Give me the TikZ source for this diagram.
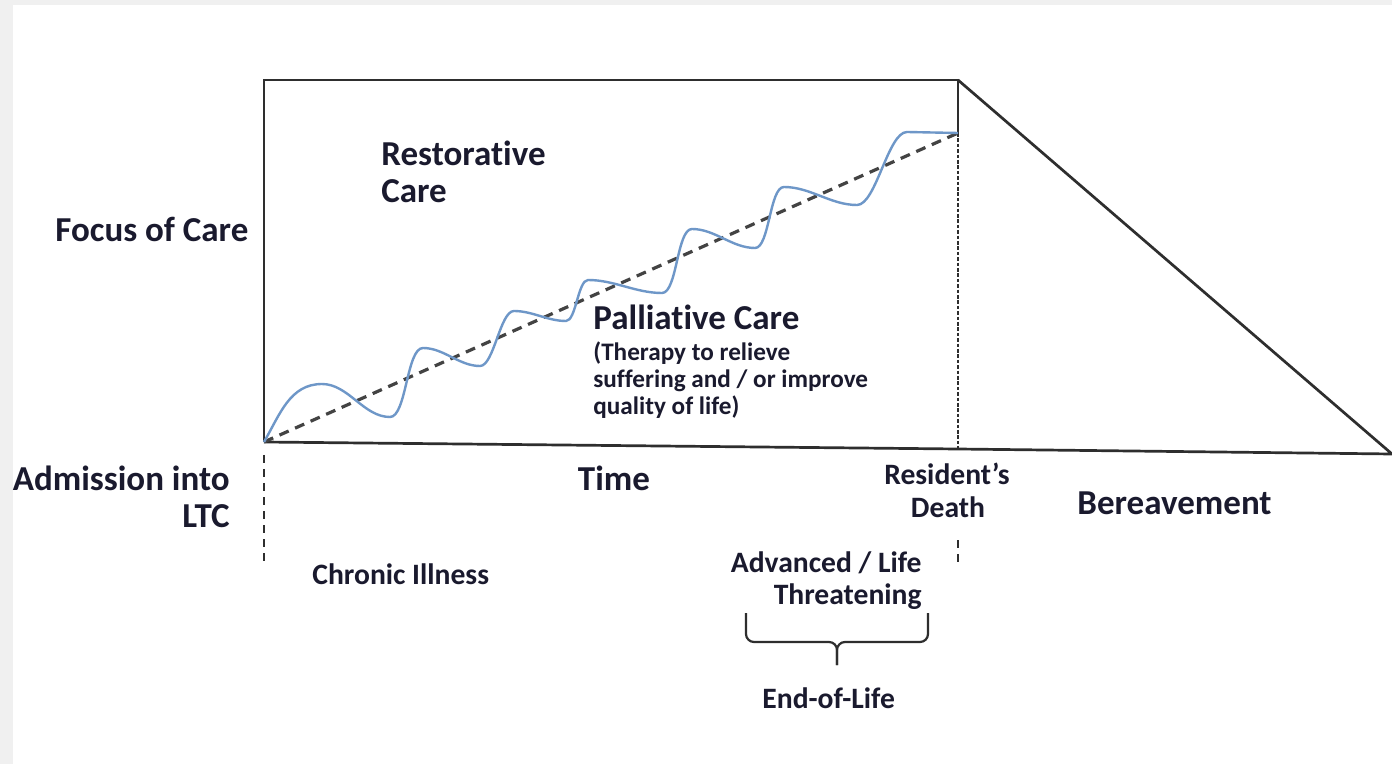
\documentclass[tikz,border=0pt]{standalone}
\usepackage{fontspec}
\setmainfont{Carlito}[RawFeature={-liga;-clig;-dlig}]
\definecolor{txt}{HTML}{1A1A2E}
\definecolor{ln}{HTML}{2E2E2E}
\definecolor{wavec}{HTML}{6E97C8}
\definecolor{bg}{HTML}{F0F0F0}
\tikzset{
  big/.style={text=txt,inner sep=0pt,font=\fontsize{17.5}{18}\selectfont\bfseries},
  mid/.style={text=txt,inner sep=0pt,font=\fontsize{14.8}{15}\selectfont\bfseries},
  small/.style={text=txt,inner sep=0pt,font=\fontsize{12.6}{13}\selectfont\bfseries},
  frame/.style={draw=ln,line width=1.35pt},
  trend/.style={draw=ln!90,line width=1.6pt,dash pattern=on 5pt off 3.5pt},
  dotv/.style={draw=ln,line width=1.4pt,dash pattern=on 1.8pt off 0.9pt},
  tick/.style={draw=ln,line width=1.1pt,dash pattern=on 4pt off 3pt},
  wave/.style={draw=wavec,line width=1.2pt},
  rise/.style={out=0,in=180,looseness=0.55},
  fall/.style={out=0,in=180,looseness=0.9},
  bracec/.style={draw=ln,line width=1.1pt,rounded corners=4pt}
}
\begin{document}
\begin{tikzpicture}[x=0.5pt,y=-0.5pt]
\useasboundingbox (0,0) rectangle (1392,764);
\fill[bg] (0,0) rectangle (1392,764);
\fill[white] (13,5) rectangle (1392,764);
% key points
\coordinate (TL) at (264,80);
\coordinate (TR) at (958,80);
\coordinate (O) at (264,442);
\coordinate (D) at (958,449);
\coordinate (E) at (1392,454);
\coordinate (W) at (958,133);
% frame
\draw[frame] (O) -- (TL) -- (TR) -- (W);
\draw[frame] (O) -- (D) -- (E) -- (TR);
\draw[dotv] (W) -- (D);
% trend line
\draw[trend] (O) -- (W);
% wave
\draw[wave] (O) to[out=60,in=180] (322,384) to[fall] (390,417)
  to[rise] (423,348) to[fall] (480,366)
  to[rise] (514,311) to[fall] (566,321)
  to[rise] (588,280) to[fall] (662,293)
  to[rise] (692,229) to[fall] (755,248)
  to[rise] (784,187) to[fall] (857,205)
  to[rise] (907,132) -- (W);
% ticks below axis
\coordinate (L1) at (264,455);
\coordinate (L2) at (264,563);
\draw[tick] (L1) -- (L2);
\coordinate (R1) at (958,540);
\coordinate (R2) at (958,565);
\draw[tick] (R1) -- (R2);
% brace
\coordinate (BL) at (746,613);
\coordinate (BR) at (928,613);
\coordinate (BM) at (837,642);
\coordinate (BT) at (837,665);
\draw[bracec] (BL) -- (746,642) -- (BM) -- (BT);
\draw[bracec] (BR) -- (928,642) -- (BM) -- (BT);
% labels
\node[big,anchor=base west] (focus) at (55,242) {Focus of Care};
\node[big,anchor=base west] (rest1) at (381,166) {Restorative};
\node[big,anchor=base west] (rest2) at (381,203) {Care};
\node[big,anchor=base west] (pall) at (593,330) {Palliative Care};
\node[small,anchor=base west] (th1) at (593,361) {(Therapy to relieve};
\node[small,anchor=base west] (th2) at (593,388) {suffering and / or improve};
\node[small,anchor=base west] (th3) at (593,415) {quality of life)};
\node[big,anchor=base east] (adm1) at (230,490) {Admission into};
\node[big,anchor=base east] (adm2) at (230,527) {LTC};
\node[big,anchor=base] (time) at (614,490) {Time};
\node[mid,anchor=base] (res1) at (947,484) {Resident’s};
\node[mid,anchor=base] (res2) at (948,517) {Death};
\node[big,anchor=base west] (ber) at (1077,515) {Bereavement};
\node[mid,anchor=base west] (chron) at (312,584) {Chronic Illness};
\node[mid,anchor=base east] (adv1) at (922,572) {Advanced / Life};
\node[mid,anchor=base east] (adv2) at (922,604) {Threatening};
\node[mid,anchor=base west] (eol) at (762,708) {End-of-Life};
\end{tikzpicture}
\end{document}
